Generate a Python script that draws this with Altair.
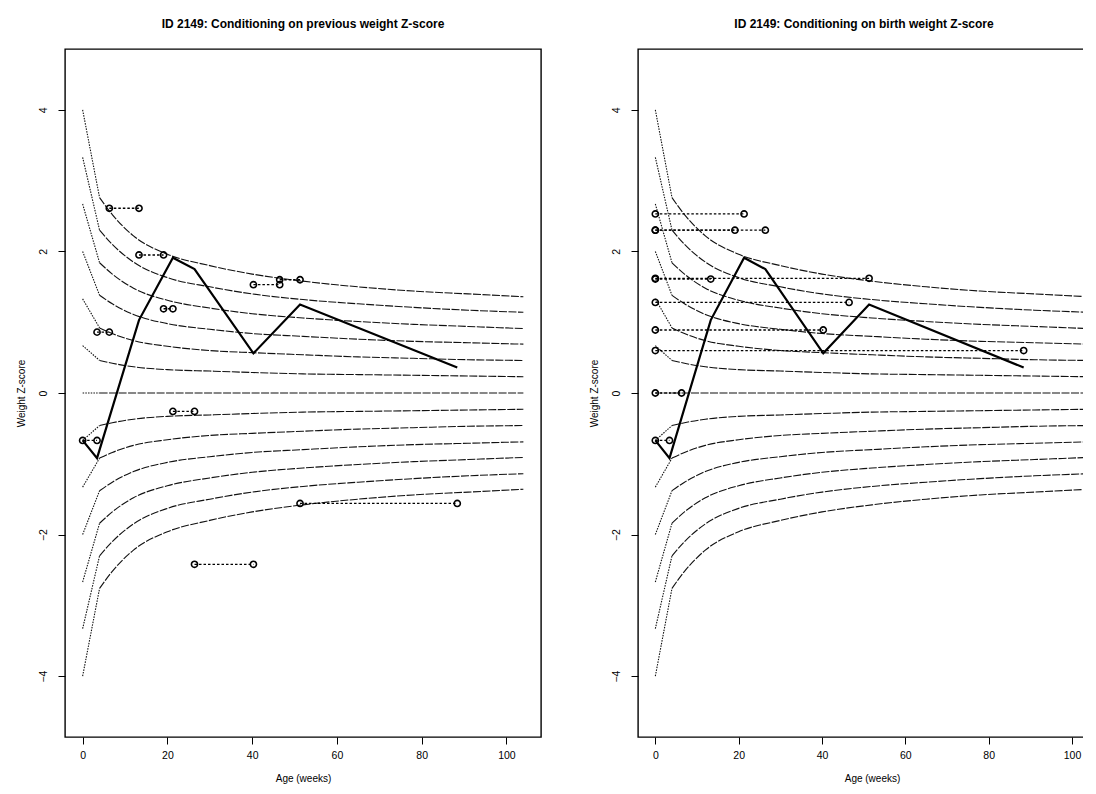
import altair as alt
import pandas as pd

# ---- centile fan (same in both panels) ----
AGES = [0, 4, 7, 12, 20, 30, 40, 52, 65, 78, 91, 104]
CURVE_P400 = [4.00, 2.76, 2.52, 2.22, 1.96, 1.80, 1.68, 1.58, 1.50, 1.44, 1.40, 1.36]
CURVE_P333 = [3.33, 2.30, 2.10, 1.85, 1.63, 1.50, 1.40, 1.32, 1.26, 1.21, 1.17, 1.14]
CURVE_P267 = [2.67, 1.84, 1.68, 1.48, 1.31, 1.20, 1.12, 1.06, 1.01, 0.97, 0.94, 0.91]
CURVE_P200 = [2.00, 1.38, 1.26, 1.11, 0.98, 0.90, 0.84, 0.80, 0.76, 0.73, 0.71, 0.69]
CURVE_P133 = [1.33, 0.92, 0.84, 0.74, 0.66, 0.60, 0.57, 0.54, 0.51, 0.49, 0.47, 0.46]
CURVE_P067 = [0.67, 0.46, 0.42, 0.37, 0.33, 0.31, 0.29, 0.27, 0.26, 0.25, 0.24, 0.23]
CURVE_000 = [0.00, 0.00, 0.00, 0.00, 0.00, 0.00, 0.00, 0.00, 0.00, 0.00, 0.00, 0.00]
CURVE_M067 = [-0.67, -0.46, -0.42, -0.37, -0.33, -0.31, -0.29, -0.27, -0.26, -0.25, -0.24, -0.23]
CURVE_M133 = [-1.33, -0.92, -0.84, -0.74, -0.66, -0.60, -0.57, -0.54, -0.51, -0.49, -0.47, -0.46]
CURVE_M200 = [-2.00, -1.38, -1.26, -1.11, -0.98, -0.90, -0.84, -0.80, -0.76, -0.73, -0.71, -0.69]
CURVE_M267 = [-2.67, -1.84, -1.68, -1.48, -1.31, -1.20, -1.12, -1.06, -1.01, -0.97, -0.94, -0.91]
CURVE_M333 = [-3.33, -2.30, -2.10, -1.85, -1.63, -1.50, -1.40, -1.32, -1.26, -1.21, -1.17, -1.14]
CURVE_M400 = [-4.00, -2.76, -2.52, -2.22, -1.96, -1.80, -1.68, -1.58, -1.50, -1.44, -1.40, -1.36]
CURVES = {
    "p400": CURVE_P400, "p333": CURVE_P333, "p267": CURVE_P267, "p200": CURVE_P200,
    "p133": CURVE_P133, "p067": CURVE_P067, "z000": CURVE_000, "m067": CURVE_M067,
    "m133": CURVE_M133, "m200": CURVE_M200, "m267": CURVE_M267, "m333": CURVE_M333,
    "m400": CURVE_M400,
}

# ---- child's observed trajectory ----
TRAJ_AGE = [0, 3.4, 13.3, 21.3, 26.4, 40.3, 51.3, 88.4]
TRAJ_Z = [-0.67, -0.92, 1.03, 1.91, 1.75, 0.56, 1.25, 0.36]

# ---- conditional z-scores: previous weight (left) ----
PREV_START = [0, 3.4, 6.3, 13.3, 19.1, 21.3, 26.4, 40.3, 46.5, 51.3]
PREV_END = [3.4, 6.3, 13.3, 19.1, 21.3, 26.4, 40.3, 46.5, 51.3, 88.4]
PREV_Z = [-0.67, 0.86, 2.61, 1.95, 1.19, -0.26, -2.42, 1.53, 1.60, -1.56]

# ---- conditional z-scores: birth weight (right) ----
BIRTH_START = [0, 0, 0, 0, 0, 0, 0, 0, 0, 0]
BIRTH_END = [3.4, 6.3, 13.3, 19.1, 21.3, 26.4, 40.3, 46.5, 51.3, 88.4]
BIRTH_Z = [-0.67, 0.00, 1.61, 2.30, 2.53, 2.30, 0.89, 1.28, 1.62, 0.60]

X_TICKS = [0, 20, 40, 60, 80, 100]
Y_TICKS = [-4, -2, 0, 2, 4]
TITLE_LEFT = "ID 2149: Conditioning on previous weight Z-score"
TITLE_RIGHT = "ID 2149: Conditioning on birth weight Z-score"

FONT = "Liberation Sans"

early_rows, late_rows = [], []
for name, vals in CURVES.items():
    for a, v in zip(AGES, vals):
        if a <= 4:
            early_rows.append({"curve": name, "age": a, "z": v})
        if a >= 4:
            late_rows.append({"curve": name, "age": a, "z": v})
curves_early = pd.DataFrame(early_rows)
curves_late = pd.DataFrame(late_rows)
traj = pd.DataFrame({"age": TRAJ_AGE, "z": TRAJ_Z})


def seg_frame(starts, ends, zs):
    rows = []
    for i, (s, e, z) in enumerate(zip(starts, ends, zs)):
        rows.append({"seg": i, "age": s, "z": z})
        rows.append({"seg": i, "age": e, "z": z})
    return pd.DataFrame(rows)


def panel(title, starts, ends, zs, width, title_dx):
    xs = alt.Scale(domain=[-4.16, 108.16], nice=False, zero=False)
    ys = alt.Scale(domain=[-4.86, 4.86], nice=False, zero=False)
    xax = alt.Axis(values=X_TICKS, title="Age (weeks)", domain=False, grid=False,
                   tickSize=7, tickColor="black", tickWidth=1, labelFontSize=10.5,
                   labelColor="black", labelPadding=6, titlePadding=13,
                   titleFontSize=10, titleFontWeight="normal", titleColor="black",
                   labelFont=FONT, titleFont=FONT)
    yax = alt.Axis(values=Y_TICKS, title="Weight Z-score", domain=False, grid=False,
                   tickSize=7, tickColor="black", tickWidth=1, labelFontSize=10.5,
                   labelColor="black", labelAngle=270, labelAlign="center",
                   labelBaseline="bottom", labelPadding=10, titlePadding=12,
                   titleFontSize=10, titleFontWeight="normal", titleColor="black",
                   labelFont=FONT, titleFont=FONT)
    x = alt.X("age:Q", scale=xs, axis=xax)
    y = alt.Y("z:Q", scale=ys, axis=yax)

    early = alt.Chart(curves_early).mark_line(
        color="#111", strokeWidth=1.1, strokeDash=[1.5, 1.2]
    ).encode(x=x, y=y, detail="curve:N")
    late = alt.Chart(curves_late).mark_line(
        color="#111", strokeWidth=1.1, strokeDash=[8, 1.5], interpolate="monotone"
    ).encode(x=x, y=y, detail="curve:N")
    tline = alt.Chart(traj).mark_line(color="black", strokeWidth=2.2).encode(x=x, y=y)
    sdf = seg_frame(starts, ends, zs)
    segs = alt.Chart(sdf).mark_line(
        color="black", strokeWidth=1.3, strokeDash=[2.5, 2]
    ).encode(x=x, y=y, detail="seg:N")
    pts = alt.Chart(sdf).mark_point(
        shape="circle", filled=False, color="black", size=38, strokeWidth=1.6,
        opacity=1
    ).encode(x=x, y=y)
    return alt.layer(early, late, tline, segs, pts).properties(
        width=width, height=688,
        title=alt.TitleParams(title, fontSize=12, fontWeight="bold", font=FONT,
                              anchor="middle", offset=18, color="black", dx=title_dx),
    )


left = panel(TITLE_LEFT, PREV_START, PREV_END, PREV_Z, 476, 0)
right = panel(TITLE_RIGHT, BIRTH_START, BIRTH_END, BIRTH_Z, 468, -8)

chart = alt.hconcat(left, right, spacing=46).properties(
    padding={"left": 7, "top": 9, "right": -24, "bottom": -1},
    background="white",
).configure_view(stroke="black", strokeWidth=1.4)

chart.save("out.html", embed_options={"renderer": "svg", "actions": False})
